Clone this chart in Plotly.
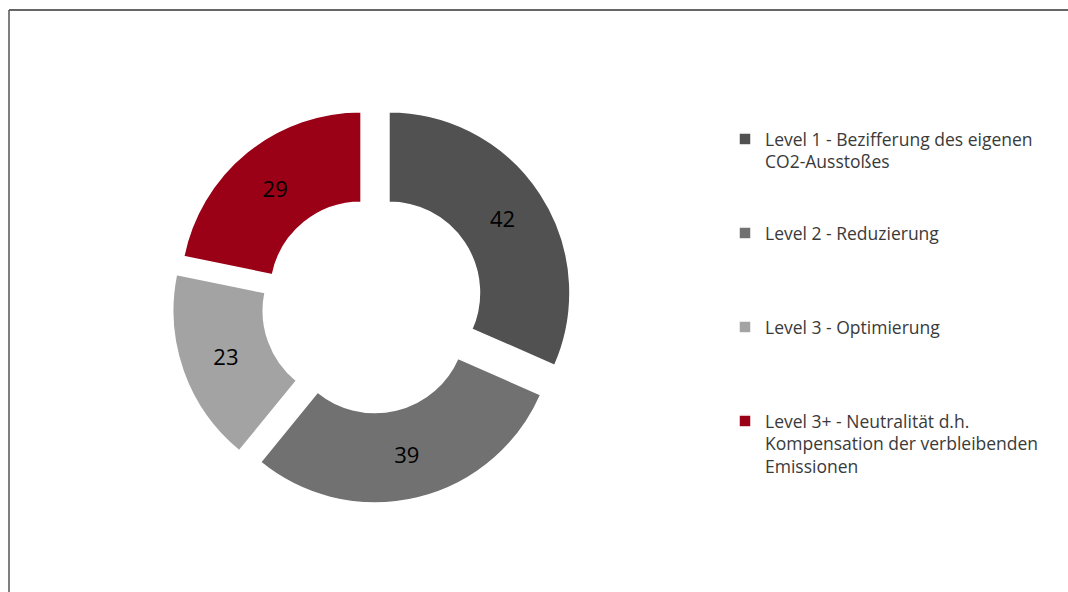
import plotly.graph_objects as go

labels = [
    "Level 1 - Bezifferung des eigenen<br>CO2-Ausstoßes",
    "Level 2 - Reduzierung",
    "Level 3 - Optimierung",
    "Level 3+ - Neutralität d.h.<br>Kompensation der verbleibenden<br>Emissionen",
]
values = [42, 39, 23, 29]
colors = ["#515151", "#717171", "#a3a3a3", "#9a0016"]
pulls = [0.12, 0.099, 0.10, 0.085]

# pad legend entries so that every entry occupies 4 lines (even spacing like the original)
def pad(label, n=4):
    k = label.count("<br>") + 1
    return label + "<br> " * (n - k)

legend_labels = [pad(l) for l in labels]

W, H = 1068, 592
CX, CY, HALF = 370.8, 304.6, 202.7

fig = go.Figure()
fig.add_trace(go.Pie(
    labels=legend_labels,
    values=values,
    text=[str(v) for v in values],
    textinfo="text",
    hoverinfo="label+value",
    sort=False,
    direction="clockwise",
    rotation=0,
    hole=0.5,
    pull=pulls,
    marker=dict(colors=colors, line=dict(color="white", width=1.5)),
    textposition="inside",
    insidetextorientation="horizontal",
    insidetextfont=dict(family="Open Sans", size=22, color="black"),
    domain=dict(x=[(CX - HALF) / W, (CX + HALF) / W],
                y=[1 - (CY + HALF) / H, 1 - (CY - HALF) / H]),
))

fig.update_layout(
    width=W, height=H,
    margin=dict(l=0, r=0, t=0, b=0),
    paper_bgcolor="white",
    plot_bgcolor="white",
    font=dict(family="Open Sans", color="#404040"),
    showlegend=True,
    legend=dict(
        x=725 / W, xanchor="left",
        y=1 - 121 / H, yanchor="top",
        valign="top",
        font=dict(family="Open Sans", size=17.5, color="#3a3a3a"),
        bgcolor="rgba(0,0,0,0)",
        traceorder="normal",
    ),
    shapes=[
        dict(type="line", xref="paper", yref="paper",
             x0=9 / W, x1=1, y0=1 - 10 / H, y1=1 - 10 / H,
             line=dict(color="#333333", width=1.5)),
        dict(type="line", xref="paper", yref="paper",
             x0=9 / W, x1=9 / W, y0=0, y1=1 - 10 / H,
             line=dict(color="#555555", width=1.5)),
    ],
)

fig.write_html("out.html")
